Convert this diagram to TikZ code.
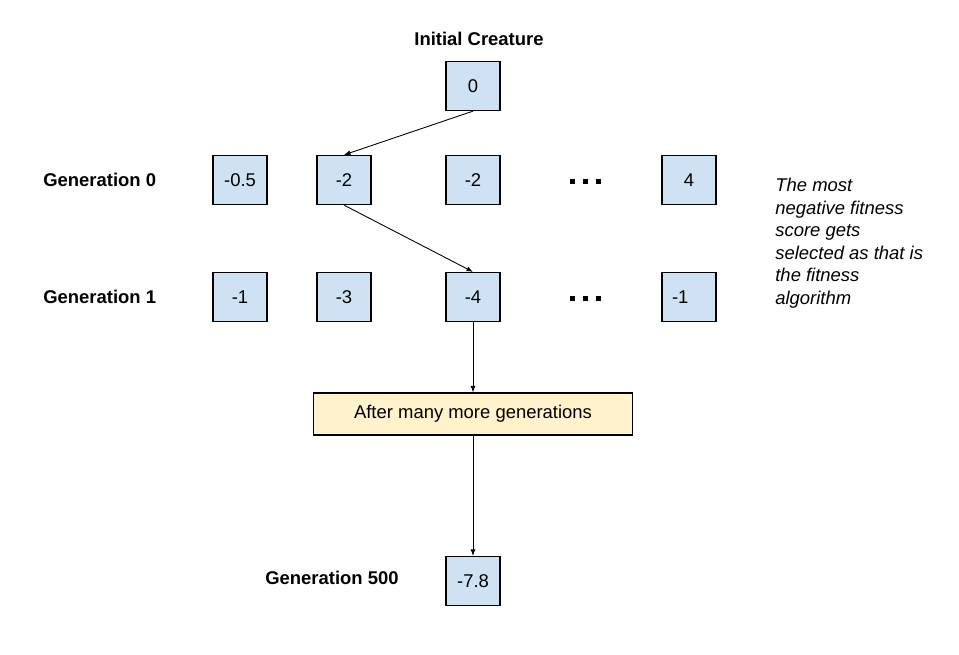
\documentclass[tikz,border=0pt]{standalone}
\usepackage{fontspec}
\setmainfont{Liberation Sans}
\usepackage{tikz}
\usetikzlibrary{arrows.meta,positioning}

\definecolor{cellblue}{HTML}{CFE2F3}
\definecolor{noteyellow}{HTML}{FFF2CC}

\begin{document}
\begin{tikzpicture}[
  x=0.02cm, y=-0.02cm,
  cell/.style={rectangle, draw, line width=0.7pt, fill=cellblue, minimum width=1.08cm, minimum height=0.98cm, inner sep=0pt, font=\fontsize{10.5}{12}\selectfont},
  wide/.style={rectangle, draw, line width=0.7pt, fill=noteyellow, minimum width=6.38cm, minimum height=0.84cm, font=\fontsize{10.5}{12}\selectfont},
  gen/.style={anchor=west, inner sep=0pt, font=\fontsize{10.5}{12}\selectfont\bfseries},
  note/.style={anchor=north west, inner sep=0pt, align=left, font=\fontsize{10.5}{12.8}\selectfont\itshape},
  line/.style={-{Latex[length=1.3mm,width=1mm]}, line width=0.5pt}
]
\useasboundingbox (0,0) rectangle (959,654);

\node[font=\fontsize{10.5}{12}\selectfont\bfseries] (title) at (479,39) {Initial Creature};
\node[cell] (init) at (473,86) {0};

\node[gen] (g0) at (43,180) {Generation 0};
\node[cell] (a1) at (240,180) {-0.5};
\node[cell] (a2) at (344,180) {-2};
\node[cell] (a3) at (473,180) {-2};
\node[cell] (a4) at (689,180) {4};

\node[gen] (g1) at (43,297) {Generation 1};
\node[cell] (b1) at (240,297) {-1};
\node[cell] (b2) at (344,297) {-3};
\node[cell] (b3) at (473,297) {-4};
\node[cell, inner xsep=0.2cm, text width=0.68cm, align=left] (b4) at (689,297) {-1};

% dots for the skipped creatures
\foreach \y in {181,298}
  \foreach \x in {572,585,598}
    \fill (\x-2.5,\y-2.5) rectangle (\x+2.5,\y+2.5);

\node[note] (rule) at (775,178) {The most\\negative fitness\\score gets\\selected as that is\\the fitness\\algorithm};

\node[wide] (many) at (473,414) {After many more generations};

\node[gen] (g500) at (265,578) {Generation 500};
\node[cell] (last) at (473,581) {-7.8};

\draw[line] (init.south) -- (a2.north);
\draw[line] (a2.south) -- (b3.north);
\draw[line] (b3.south) -- (b3.south |- many.north);
\draw[line] (b3.south |- many.south) -- (last.north);
\end{tikzpicture}
\end{document}
